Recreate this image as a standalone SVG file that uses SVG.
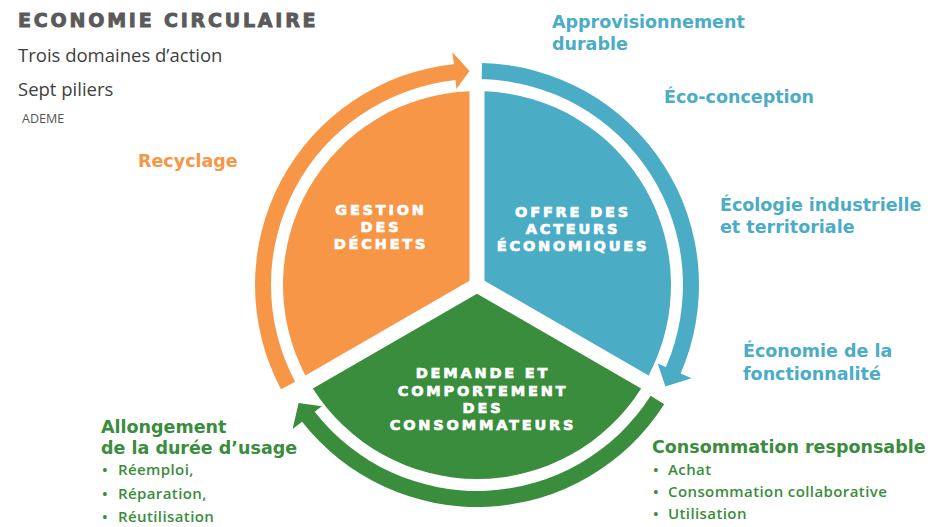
<svg xmlns="http://www.w3.org/2000/svg" width="933" height="527" viewBox="0 0 933 527">
<style>
.title{font-family:"DejaVu Sans",sans-serif;font-weight:bold;font-size:19px;letter-spacing:2.8px;fill:#5a5a5a;stroke:#5a5a5a;stroke-width:0.9px}
.sub{font-family:"Open Sans",sans-serif;font-size:18.5px;fill:#404040}
.small{font-family:"Open Sans",sans-serif;font-size:12.5px;fill:#555}
.lbl{font-family:"DejaVu Sans",sans-serif;font-weight:bold;font-size:17.5px}
.blue{fill:#4BACC6}
.green{fill:#3A8D3C}
.orange{fill:#F79646}
.item{font-family:"Open Sans",sans-serif;font-weight:600;font-size:15px;letter-spacing:0.4px;fill:#3A8D3C}
.sec{font-family:"DejaVu Sans",sans-serif;font-weight:bold;font-size:14.5px;letter-spacing:2.8px;fill:#fff;stroke:#fff;stroke-width:0.7px;text-anchor:middle}
</style>
<rect width="933" height="527" fill="#fff"/>
<g id="header">
<text class="title" x="18" y="27">ECONOMIE CIRCULAIRE</text>
<text class="sub" x="18" y="62">Trois domaines d’action</text>
<text class="sub" x="18" y="96">Sept piliers</text>
<text class="small" x="22" y="123">ADEME</text>
</g>
<g id="connectors">
<path class="orange" d="M 281.0,389.2 A 222 222 0 0 1 453.8,64.2 L 452.5,52.3 L 469.5,71.1 L 456.4,89.1 L 455.5,80.1 A 206 206 0 0 0 295.1,381.7 Z"/>
<path class="blue" d="M 482.0,63.1 A 222 222 0 0 1 680.6,373.5 L 691.6,378.3 L 665.4,386.5 L 657.7,363.6 L 665.9,367.1 A 206 206 0 0 0 481.7,79.1 Z"/>
<path class="green" d="M 664.2,404.3 A 222 222 0 0 1 302.1,421.7 L 292.6,429.1 L 298.6,403.1 L 321.8,406.3 L 314.7,411.8 A 206 206 0 0 0 650.7,395.7 Z"/>
</g>
<g id="gestion">
<path class="orange" d="M 469.5,280.67 L 305.35,375.41 A 194 194 0 0 1 469.5,91.15 Z"/>
<text class="sec" x="381" y="215">GESTION</text>
<text class="sec" x="381" y="232">DES</text>
<text class="sec" x="381" y="249">DÉCHETS</text>
</g>
<g id="offre">
<path class="blue" d="M 484.5,280.67 L 484.5,91.15 A 194 194 0 0 1 648.65,375.41 Z"/>
<text class="sec" x="573" y="217">OFFRE DES</text>
<text class="sec" x="573" y="234">ACTEURS</text>
<text class="sec" x="573" y="251">ÉCONOMIQUES</text>
</g>
<g id="demande">
<path class="green" d="M 477,293.66 L 641.14,388.41 A 194 194 0 0 1 312.86,388.41 Z"/>
<text class="sec" x="483" y="378">DEMANDE ET</text>
<text class="sec" x="483" y="396">COMPORTEMENT</text>
<text class="sec" x="483" y="413">DES</text>
<text class="sec" x="483" y="430">CONSOMMATEURS</text>
</g>
<g id="approvisionnement">
<text class="lbl blue" x="552" y="28">Approvisionnement</text>
<text class="lbl blue" x="552" y="50">durable</text>
</g>
<g id="ecoconception">
<text class="lbl blue" x="664" y="103">Éco-conception</text>
</g>
<g id="ecologie">
<text class="lbl blue" x="720" y="211">Écologie industrielle</text>
<text class="lbl blue" x="720" y="233">et territoriale</text>
</g>
<g id="fonctionnalite">
<text class="lbl blue" x="743" y="357">Économie de la</text>
<text class="lbl blue" x="743" y="380">fonctionnalité</text>
</g>
<g id="recyclage">
<text class="lbl orange" x="138" y="167">Recyclage</text>
</g>
<g id="allongement">
<text class="lbl green" x="101" y="433">Allongement</text>
<text class="lbl green" x="101" y="454">de la durée d’usage</text>
<text class="item" x="102" y="475">•</text><text class="item" x="118" y="475">Réemploi,</text>
<text class="item" x="102" y="499">•</text><text class="item" x="118" y="499">Réparation,</text>
<text class="item" x="102" y="522">•</text><text class="item" x="118" y="522">Réutilisation</text>
</g>
<g id="consommation">
<text class="lbl green" x="652" y="453">Consommation responsable</text>
<text class="item" x="653" y="475">•</text><text class="item" x="668" y="475">Achat</text>
<text class="item" x="653" y="497">•</text><text class="item" x="668" y="497">Consommation collaborative</text>
<text class="item" x="653" y="519">•</text><text class="item" x="668" y="519">Utilisation</text>
</g>
</svg>
